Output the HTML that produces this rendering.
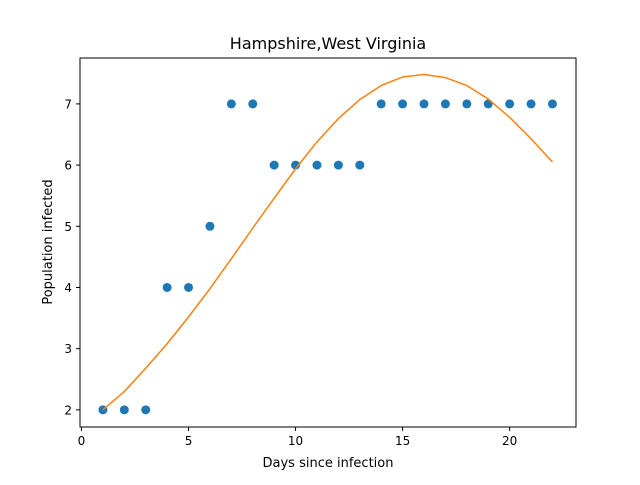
<!DOCTYPE html>
<html><head><meta charset="utf-8"><style>
body{margin:0;background:#fff;font-family:"Liberation Sans","DejaVu Sans",sans-serif}
</style></head><body>
<svg id="chart" width="640" height="480" xmlns="http://www.w3.org/2000/svg">
<rect width="640" height="480" fill="#fff"/>
<text x="328" y="49" font-size="16" text-anchor="middle" font-family="DejaVu Sans, Liberation Sans, sans-serif">Hampshire,West Virginia</text>
<g id="plot"></g>
<rect x="80" y="58" width="496" height="369" fill="none" stroke="#000" stroke-width="1"/>
<text x="328" y="467" font-size="13" text-anchor="middle" font-family="DejaVu Sans, Liberation Sans, sans-serif">Days since infection</text>
<text x="52" y="242" font-size="13" text-anchor="middle" transform="rotate(-90 52 242)" font-family="DejaVu Sans, Liberation Sans, sans-serif">Population infected</text>
</svg>
<script>
const days=[1,2,3,4,5,6,7,8,9,10,11,12,13,14,15,16,17,18,19,20,21,22];
const observed=[2,2,2,4,4,5,7,7,6,6,6,6,6,7,7,7,7,7,7,7,7,7];
const fitted=[2.0,2.3,2.68,3.08,3.52,3.98,4.47,4.97,5.46,5.94,6.38,6.76,7.07,7.3,7.44,7.48,7.43,7.3,7.08,6.78,6.43,6.05];
const xTicks=[0,5,10,15,20];
const yTicks=[2,3,4,5,6,7];
const X0=80,X1=576,Y0=427,Y1=58;
const xMin=-0.07,xMax=23.1,yMin=1.72,yMax=7.75;
const sx=v=>X0+(v-xMin)/(xMax-xMin)*(X1-X0);
const sy=v=>Y0-(v-yMin)/(yMax-yMin)*(Y0-Y1);
const NS="http://www.w3.org/2000/svg";
const svg=document.getElementById('chart');
const plot=document.getElementById('plot');
function mk(tag,attrs,parent){const e=document.createElementNS(NS,tag);for(const k in attrs)e.setAttribute(k,attrs[k]);(parent||svg).appendChild(e);return e;}
xTicks.forEach(t=>{
  const l=mk('line',{x1:sx(t),x2:sx(t),y1:Y0,y2:Y0+4,stroke:'#000'});
  
  
  const tx=mk('text',{x:sx(t),y:Y0+18,'font-size':12,'text-anchor':'middle','font-family':'DejaVu Sans, Liberation Sans, sans-serif'});
  tx.textContent=t;
  
  
});
yTicks.forEach(t=>{
  const l=mk('line',{x1:X0-4,x2:X0,y1:sy(t),y2:sy(t),stroke:'#000'});
  
  
  const tx=mk('text',{x:X0-8,y:sy(t)+4.5,'font-size':12,'text-anchor':'end','font-family':'DejaVu Sans, Liberation Sans, sans-serif'});
  tx.textContent=t;
  
  
});
days.forEach((d,i)=>{
  const c=mk('circle',{cx:sx(d),cy:sy(observed[i]),r:4.5,fill:'#1f77b4'},plot);
  
  
});
const pl=mk('polyline',{points:days.map((d,i)=>sx(d)+','+sy(fitted[i])).join(' '),fill:'none',stroke:'#ff7f0e','stroke-width':1.5},plot);


</script>
</body></html>
